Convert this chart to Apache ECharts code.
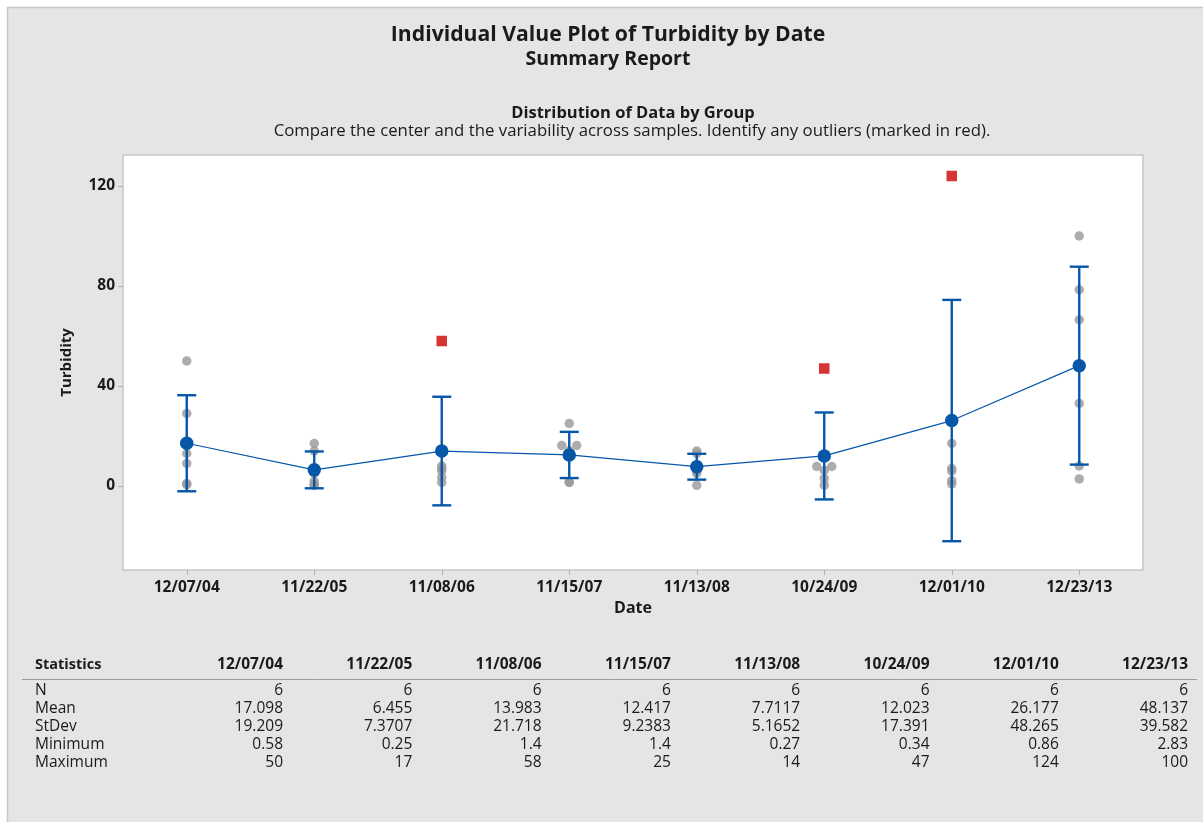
<!DOCTYPE html>
<html><head><meta charset="utf-8">
<script src="https://cdn.jsdelivr.net/npm/echarts@6/dist/echarts.min.js"></script>
<style>html,body{margin:0;padding:0;background:#fff;}#c{width:1203px;height:822px;}</style>
</head><body><div id="c"></div>
<script>
// ---- data ----
const dates = ['12/07/04','11/22/05','11/08/06','11/15/07','11/13/08','10/24/09','12/01/10','12/23/13'];
const turb0404 = [50, 29, 13, 9, 1.0, 0.58];
const turb0511 = [17, 14, 5, 1.8, 0.68, 0.25];
const turb0611 = [58, 8, 7, 6, 3.5, 1.4];
const turb0711 = [25, 16.2, 16.2, 14.1, 1.6, 1.4];
const turb0811 = [14, 13, 8, 6, 5, 0.27];
const turb0910 = [47, 7.8, 7.8, 6.2, 3, 0.34];
const turb1012 = [124, 17, 7, 6, 2.2, 0.86];
const turb1312 = [100, 78.5, 66.5, 33, 8, 2.83];
const groups = [turb0404, turb0511, turb0611, turb0711, turb0811, turb0910, turb1012, turb1312];

const statN     = ['6','6','6','6','6','6','6','6'];
const statMean  = ['17.098','6.455','13.983','12.417','7.7117','12.023','26.177','48.137'];
const statStDev = ['19.209','7.3707','21.718','9.2383','5.1652','17.391','48.265','39.582'];
const statMin   = ['0.58','0.25','1.4','1.4','0.27','0.34','0.86','2.83'];
const statMax   = ['50','17','58','25','14','47','124','100'];
const yTicks = [0, 40, 80, 120];

// ---- derived ----
function quantile(sorted, q){
  const n = sorted.length, p = q*(n+1);
  if (p <= 1) return sorted[0];
  if (p >= n) return sorted[n-1];
  const lo = Math.floor(p), f = p - lo;
  return sorted[lo-1] + f*(sorted[lo]-sorted[lo-1]);
}
const indiv = [], outl = [];
groups.forEach((vals, gi) => {
  const s = vals.slice().sort((a,b)=>a-b);
  const q1 = quantile(s, 0.25), q3 = quantile(s, 0.75), iqr = q3 - q1;
  const lf = q1 - 1.5*iqr, uf = q3 + 1.5*iqr;
  const normal = [];
  vals.forEach(v => { if (v > uf || v < lf) outl.push([gi, v]); else normal.push(v); });
  const used = new Array(normal.length).fill(false);
  normal.forEach((v, i) => {
    if (used[i]) return;
    const cl = [];
    normal.forEach((w, j) => { if (!used[j] && Math.abs(w - v) < 0.05) { cl.push(j); used[j] = true; } });
    cl.forEach((j, k) => {
      const dx = (k - (cl.length-1)/2) * 15;
      indiv.push({ value: [gi, normal[j]], symbolOffset: [dx, 0] });
    });
  });
});
const meanVals = statMean.map(Number);
const sdVals = statStDev.map(Number);
const errData = meanVals.map((m, i) => [i, m - sdVals[i], m + sdVals[i]]);

const FONT = 'Open Sans';
const TXT = '#1a1a1a';
const BLUE = '#0657a8';

const graphics = [
  { type:'rect', z:-5, silent:true, shape:{x:7.5,y:7.5,width:1210,height:830}, style:{fill:'#e5e5e5', stroke:'#c8c8c8', lineWidth:1.5} }
];
const colRight = i => 283 + i*129.3;
const rowY = [690, 708, 726, 744, 762];
const rowNames = ['N','Mean','StDev','Minimum','Maximum'];
const rowData = [statN, statMean, statStDev, statMin, statMax];
function txt(x, y, t, font, align){
  graphics.push({ type:'text', x:x, y:y, silent:true, style:{ text:t, font:font, fill:TXT, textAlign:align, textVerticalAlign:'middle' } });
}
txt(35, 665, 'Statistics', 'bold 14.5px "'+FONT+'"', 'left');
dates.forEach((d, i) => txt(colRight(i), 665, d, 'bold 15.5px "'+FONT+'"', 'right'));
graphics.push({ type:'line', silent:true, shape:{x1:22,y1:679.5,x2:1197,y2:679.5}, style:{stroke:'#9a9a9a', lineWidth:1} });
rowNames.forEach((rn, r) => {
  txt(35, rowY[r] + 1, rn, '15.5px "'+FONT+'"', 'left');
  rowData[r].forEach((v, i) => txt(colRight(i), rowY[r] + 1, v, '15.5px "'+FONT+'"', 'right'));
});
txt(608, 35, 'Individual Value Plot of Turbidity by Date', 'bold 21.2px "'+FONT+'"', 'center');
txt(608, 59, 'Summary Report', 'bold 19.5px "'+FONT+'"', 'center');
txt(633, 113, 'Distribution of Data by Group', 'bold 16.5px "'+FONT+'"', 'center');
txt(632, 131, 'Compare the center and the variability across samples. Identify any outliers (marked in red).', '16.8px "'+FONT+'"', 'center');

const chart = echarts.init(document.getElementById('c'));
chart.setOption({
  animation: false,
  backgroundColor: 'transparent',
  graphic: graphics,
  grid: { left:123, right:60, top:155, bottom:252, show:true, backgroundColor:'#ffffff', borderColor:'#c6c6c6', borderWidth:1.5 },
  xAxis: {
    type:'category', data:dates, boundaryGap:true, position:'bottom',
    name:'Date', nameLocation:'middle', nameGap:28,
    nameTextStyle:{ fontFamily:FONT, fontWeight:'bold', fontSize:16, color:TXT },
    axisLine:{ show:false, onZero:false },
    axisTick:{ show:true, alignWithLabel:true, length:5, lineStyle:{ color:'#b0b0b0' } },
    axisLabel:{ fontFamily:FONT, fontWeight:'bold', fontSize:15.5, color:TXT, margin:10 },
    splitLine:{ show:false }
  },
  yAxis: {
    type:'value', min:-33.6, max:132.4,
    name:'Turbidity', nameLocation:'middle', nameGap:49,
    nameTextStyle:{ fontFamily:FONT, fontWeight:'bold', fontSize:15, color:TXT },
    axisLine:{ show:false, onZero:false },
    axisTick:{ show:true, length:5, customValues:yTicks, lineStyle:{ color:'#b0b0b0' } },
    axisLabel:{ fontFamily:FONT, fontWeight:'bold', fontSize:15.5, color:TXT, margin:8, customValues:yTicks },
    splitLine:{ show:false }
  },
  series: [
    { type:'scatter', name:'Individual', data:indiv, symbol:'circle', symbolSize:9.5, itemStyle:{ color:'#999999' }, z:2 },
    { type:'custom', name:'StDev', data:errData, z:3,
      renderItem: function(params, api){
        const x = api.value(0);
        const lo = api.coord([x, api.value(1)]);
        const hi = api.coord([x, api.value(2)]);
        const hw = 9.5;
        const st = { stroke:BLUE, lineWidth:2.4 };
        return { type:'group', children:[
          { type:'line', shape:{x1:lo[0],y1:lo[1],x2:hi[0],y2:hi[1]}, style:st },
          { type:'line', shape:{x1:lo[0]-hw,y1:lo[1],x2:lo[0]+hw,y2:lo[1]}, style:st },
          { type:'line', shape:{x1:hi[0]-hw,y1:hi[1],x2:hi[0]+hw,y2:hi[1]}, style:st }
        ]};
      }
    },
    { type:'line', name:'Mean', data:meanVals, symbol:'circle', symbolSize:13.5, showSymbol:true,
      lineStyle:{ color:BLUE, width:1.2 }, itemStyle:{ color:BLUE }, z:4 },
    { type:'scatter', name:'Outlier', data:outl, symbol:'rect', symbolSize:10.5, itemStyle:{ color:'#cc0000' }, z:5 }
  ]
});
</script></body></html>
